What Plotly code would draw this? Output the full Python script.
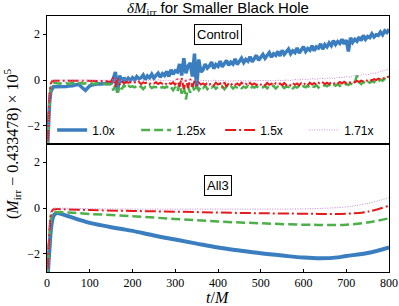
import numpy as np
import plotly.graph_objects as go

# ---------------- data ----------------
series_names = ["1.0x", "1.25x", "1.5x", "1.71x"]
colors = ["#3a7ebf", "#4daf4a", "#e41a1c", "#c983d8"]

x_ticks = [0, 100, 200, 300, 400, 500, 600, 700, 800]
y_ticks = [-2, 0, 2]

# Control panel
t_ramp = [0, 3, 6, 9, 12, 15, 20]
ctrl_blue_ramp = [-3.5, -2.2, -1.0, -0.5, -0.35, -0.3, -0.3]
ctrl_green_ramp = [-3.5, -2.0, -0.8, -0.3, -0.15, -0.12, -0.13]
ctrl_red_ramp = [-3.5, -1.8, -0.6, -0.15, -0.05, -0.03, -0.03]

t_ctrl = list(np.arange(25, 801, 5))
ctrl_blue = [
    -0.3, -0.28, -0.29, -0.27, -0.28, -0.26, -0.27, -0.25, -0.22, -0.2, -0.18, -0.3, -0.4, -0.45, -0.35, -0.25, -0.22, -0.2, -0.18, -0.17, -0.18, -0.16, -0.17, -0.15, -0.16, -0.15,
    0.05, 0.35, -0.55, 0.2, -0.1, 0.1, -0.05, 0.08, -0.02, 0.1,
    0.0, 0.15, 0.05, 0.1, 0.22, 0.02, 0.18, 0.1, 0.25, 0.08, 0.2, 0.3, 0.12, 0.28, 0.2, 0.38, 0.15, 0.45, 0.25, 0.4,
    0.35, 0.7, 0.2, 0.95, 0.3, 0.6, 0.75, 0.15, 1.15, -0.4, 0.9, 0.35,
    0.45, 0.7, 0.52, 0.62, 0.78, 0.5, 0.68, 0.6, 0.82, 0.58, 0.72, 0.85, 0.64, 0.78, 0.7, 0.92, 0.68, 0.84, 0.95, 0.76, 0.9, 0.82, 1.02, 0.8, 0.95, 1.08, 0.86, 1.0,
    1.12, 0.95, 1.05, 1.2, 1.0, 1.15, 1.08, 1.25, 1.05, 1.3, 1.12, 1.22, 1.35, 1.15, 1.28, 1.2, 1.4, 1.18, 1.32, 1.45, 1.25, 1.38, 1.3, 1.5, 1.28, 1.45, 1.4, 1.58, 1.35, 1.55,
    1.45, 1.62, 1.5, 1.72, 1.55, 1.68, 1.6, 1.78, 1.58, 1.75, 1.25, 1.85, 1.65, 1.78, 1.7, 1.88, 1.72, 1.95, 1.78, 1.9, 1.85, 2.02, 1.88, 1.98, 1.95, 2.1, 1.98, 2.15, 2.08, 2.22,
]
ctrl_green = [
    -0.13, -0.16, -0.12, -0.15, -0.13, -0.17, -0.14, -0.12, -0.16, -0.13, -0.15, -0.12, -0.16, -0.14, -0.17, -0.13, -0.15, -0.18, -0.14, -0.16, -0.13, -0.17, -0.15, -0.18, -0.16, -0.2,
    -0.45, -0.2, -0.55, -0.25, -0.4, -0.22, -0.35, -0.25, -0.3, -0.28,
    -0.32, -0.26, -0.34, -0.28, -0.4, -0.3, -0.33, -0.27, -0.35, -0.3, -0.32, -0.28, -0.36, -0.3, -0.34, -0.29, -0.38, -0.31, -0.45, -0.3,
    -0.5, -0.15, -0.6, -0.25, -0.85, -0.3, -0.55, -0.2, -0.5, -0.3, -0.45, -0.28,
    -0.35, -0.25, -0.4, -0.28, -0.33, -0.26, -0.38, -0.3, -0.34, -0.27, -0.4, -0.29, -0.33, -0.26, -0.37, -0.3, -0.32, -0.27, -0.36, -0.29, -0.34, -0.26, -0.38, -0.3, -0.33, -0.27, -0.35, -0.3,
    -0.32, -0.26, -0.36, -0.28, -0.33, -0.25, -0.37, -0.29, -0.32, -0.26, -0.35, -0.28, -0.31, -0.24, -0.36, -0.29, -0.33, -0.25, -0.34, -0.27, -0.32, -0.24, -0.35, -0.28, -0.3, -0.23, -0.33, -0.26, -0.29, -0.22,
    -0.27, -0.2, -0.28, -0.21, -0.25, -0.18, -0.26, -0.2, -0.23, -0.17, -0.22, -0.15, -0.2, -0.12, 0.2, -0.1, -0.18, -0.08, -0.15, -0.06, -0.12, -0.05, -0.1, 0.0, -0.06, 0.02, -0.03, 0.05, 0.0, 0.08,
]
ctrl_red = [
    -0.03, -0.04, -0.02, -0.05, -0.03, -0.04, -0.02, -0.05, -0.03, -0.04, -0.03, -0.05, -0.02, -0.04, -0.03, -0.05, -0.04, -0.03, -0.05, -0.04, -0.06, -0.04, -0.07, -0.05, -0.08, -0.06,
    0.1, -0.3, 0.05, -0.2, -0.05, -0.15, -0.08, -0.12, -0.1, -0.14,
    -0.1, -0.15, -0.08, -0.18, -0.1, -0.14, -0.09, -0.17, -0.11, -0.15, -0.1, -0.18, -0.12, -0.16, -0.1, -0.2, -0.12, -0.18, -0.1, -0.22,
    0.05, -0.3, 0.1, -0.4, 0.0, -0.35, 0.05, -0.3, -0.05, -0.25, -0.1, -0.2,
    -0.15, -0.22, -0.12, -0.2, -0.14, -0.24, -0.12, -0.2, -0.15, -0.35, -0.1, -0.3, -0.14, -0.22, -0.13, -0.21, -0.15, -0.23, -0.12, -0.2, -0.16, -0.24, -0.13, -0.21, -0.15, -0.22, -0.14, -0.2,
    -0.15, -0.23, -0.13, -0.21, -0.16, -0.24, -0.14, -0.2, -0.15, -0.23, -0.13, -0.22, -0.16, -0.24, -0.14, -0.21, -0.15, -0.23, -0.13, -0.2, -0.14, -0.22, -0.12, -0.2, -0.13, -0.21, -0.12, -0.19, -0.11, -0.18,
    -0.12, -0.18, -0.1, -0.17, -0.11, -0.16, -0.09, -0.15, -0.08, -0.14, -0.07, -0.12, -0.06, -0.1, -0.04, -0.08, -0.03, -0.06, 0.0, -0.04, 0.02, -0.02, 0.04, 0.0, 0.06, 0.03, 0.09, 0.05, 0.12, 0.15,
]
t_ctrl_purple = [0, 3, 6, 9, 12, 15] + list(np.arange(20, 801, 10))
ctrl_purple = [-3.5, -1.7, -0.5, -0.1, -0.02, 0.0,
    0.0, 0.01, 0.0, 0.01, 0.0, 0.01, 0.0, 0.0, 0.01, 0.0, 0.0, -0.01, 0.0, -0.01,
    0.05, -0.05, 0.02, -0.03, 0.0, -0.02, 0.01, -0.03, 0.0, -0.02, 0.01, -0.03, 0.0, -0.04, 0.0,
    0.05, -0.06, 0.03, -0.05, 0.0, -0.04, -0.02, -0.05, -0.01, -0.04, -0.02, -0.05, -0.03, -0.04, -0.03,
    -0.04, -0.03, -0.05, -0.02, -0.04, -0.03, -0.02, -0.04, -0.01, -0.03, 0.0, -0.02, 0.02, 0.0, 0.04,
    0.02, 0.06, 0.03, 0.08, 0.05, 0.1, 0.06, 0.12, 0.1, 0.15, 0.12, 0.2, 0.18, 0.25, 0.22, 0.3, 0.3, 0.38, 0.42, 0.5,
]

# All3 panel
t_all_blue = [0, 5, 10, 15, 20, 25, 30, 40, 50, 60, 80, 100, 125, 150, 175, 200, 250, 300, 350, 400, 450, 500, 550, 600, 640, 680, 700, 750, 800]
all_blue = [-3.5, -2.0, -0.8, -0.35, -0.24, -0.22, -0.24, -0.3, -0.36, -0.42, -0.54, -0.65, -0.75, -0.84, -0.92, -1.0, -1.2, -1.38, -1.56, -1.73, -1.86, -1.98, -2.08, -2.17, -2.2, -2.16, -2.1, -1.97, -1.72]
t_all_green = [0, 5, 10, 15, 20, 50, 100, 200, 300, 400, 500, 600, 650, 700, 750, 800]
all_green = [-3.5, -1.5, -0.4, -0.16, -0.17, -0.2, -0.26, -0.36, -0.48, -0.59, -0.67, -0.73, -0.74, -0.73, -0.63, -0.45]
t_all_red = [0, 5, 10, 15, 20, 100, 200, 300, 400, 500, 600, 650, 700, 750, 800]
all_red = [-3.5, -1.3, -0.2, -0.06, -0.05, -0.09, -0.13, -0.16, -0.2, -0.23, -0.25, -0.26, -0.25, -0.16, 0.1]
t_all_purple = [0, 5, 10, 15, 20, 100, 200, 300, 400, 500, 600, 650, 700, 750, 800]
all_purple = [-3.5, -1.0, -0.1, 0.0, 0.0, -0.03, -0.05, -0.05, -0.05, -0.05, -0.04, -0.01, 0.05, 0.2, 0.45]

# ---------------- figure ----------------
widths = [3.5, 2.5, 2.0, 1.0]
widths_all3 = [4.0, 2.5, 2.0, 1.0]
dashes = ["solid", "9px,4px", "11px,3px,2px,3px", "1px,1.5px"]

ctrl = [
    (t_ramp + t_ctrl, ctrl_blue_ramp + ctrl_blue),
    (t_ramp + t_ctrl, ctrl_green_ramp + ctrl_green),
    (t_ramp + t_ctrl, ctrl_red_ramp + ctrl_red),
    (t_ctrl_purple, ctrl_purple),
]
all3 = [
    (t_all_blue, all_blue),
    (t_all_green, all_green),
    (t_all_red, all_red),
    (t_all_purple, all_purple),
]

fig = go.Figure()
for i, (tx, ty) in enumerate(ctrl):
    fig.add_trace(go.Scatter(x=tx, y=ty, mode="lines", name=series_names[i],
                             line=dict(color=colors[i], width=widths[i], dash=dashes[i]),
                             xaxis="x", yaxis="y", showlegend=True))
for i, (tx, ty) in enumerate(all3):
    fig.add_trace(go.Scatter(x=tx, y=ty, mode="lines", name=series_names[i],
                             line=dict(color=colors[i], width=widths_all3[i], dash=dashes[i], shape="spline"),
                             xaxis="x2", yaxis="y2", showlegend=False))

serif = "Liberation Serif"
sans = "Liberation Sans"
axis_common = dict(showline=True, mirror=True, linecolor="black", linewidth=1,
                   showgrid=False, zeroline=False)

fig.update_layout(
    width=399, height=306,
    margin=dict(l=47, r=10, t=16, b=34, autoexpand=False),
    paper_bgcolor="white", plot_bgcolor="white",
    xaxis=dict(domain=[0, 1], range=[0, 800], anchor="y", showticklabels=False, ticks="",
               **axis_common),
    yaxis=dict(domain=[0.5, 1], range=[-2.8, 2.8], anchor="x", tickvals=y_ticks,
               ticks="outside", ticklen=3.5, tickcolor="black",
               tickfont=dict(family=serif, size=12, color="black"), **axis_common),
    xaxis2=dict(domain=[0, 1], range=[0, 800], anchor="y2", tickvals=x_ticks,
                ticks="inside", ticklen=3.5, tickcolor="black",
                tickfont=dict(family=serif, size=12, color="black"), **axis_common),
    yaxis2=dict(domain=[0, 0.5], range=[-2.8, 2.8], anchor="x2", tickvals=y_ticks,
                ticks="outside", ticklen=3.5, tickcolor="black",
                tickfont=dict(family=serif, size=12, color="black"), **axis_common),
    legend=dict(orientation="h", x=0.015, xanchor="left", y=0.555, yanchor="middle",
                yref="paper", bgcolor="rgba(0,0,0,0)",
                font=dict(family=sans, size=12, color="black"),
                entrywidth=39, entrywidthmode="pixels", itemwidth=30,
                tracegroupgap=0),
    showlegend=True,
)

fig.add_annotation(
    text="<span style=\"font-family:'Liberation Serif'\"><i>δM</i><sub>irr</sub></span> for Smaller Black Hole",
    xref="paper", yref="paper", x=0.5, y=1.0, yshift=8, xanchor="center", yanchor="middle",
    showarrow=False, font=dict(family=sans, size=15, color="black"))

fig.add_annotation(
    text="(<i>M</i><sub>irr</sub> − 0.433478) × 10<sup>5</sup>",
    xref="paper", yref="paper", x=0, xshift=-35, y=0.5, xanchor="center", yanchor="middle",
    textangle=-90, showarrow=False, font=dict(family=serif, size=16, color="black"))

fig.add_annotation(
    text="<i>t</i>/<i>M</i>", xref="paper", yref="paper", x=0.5, y=0, yshift=-15,
    xanchor="center", yanchor="top", showarrow=False,
    font=dict(family=serif, size=16, color="black"))

fig.add_annotation(text="Control", xref="x", yref="y", x=400, y=2.0, showarrow=False,
                   font=dict(family=sans, size=13, color="black"),
                   bordercolor="black", borderwidth=1, borderpad=2, bgcolor="white")
fig.add_annotation(text="All3", xref="x2", yref="y2", x=400, y=1.0, showarrow=False,
                   font=dict(family=sans, size=13, color="black"),
                   bordercolor="black", borderwidth=1, borderpad=2, bgcolor="white")

fig.write_html("out.html", config={"displayModeBar": False},
               post_script="document.body.style.margin='0px';document.body.style.overflow='hidden';")
